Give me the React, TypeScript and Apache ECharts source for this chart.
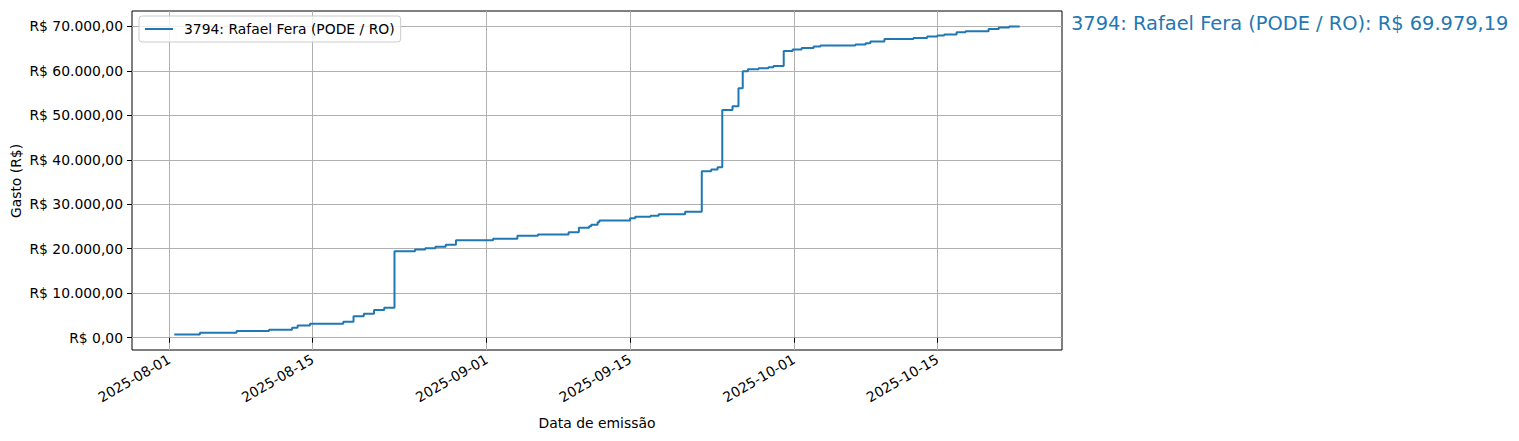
import React, { useEffect, useRef } from "react";
import * as echarts from "echarts";

const seriesName = "3794: Rafael Fera (PODE / RO)";
const totalLabel = "3794: Rafael Fera (PODE / RO): R$ 69.979,19";

const dates: string[] = [
  "2025-08-01 12:00", "2025-08-04 00:00", "2025-08-07 14:00", "2025-08-10 18:00",
  "2025-08-13 00:00", "2025-08-13 13:00", "2025-08-14 18:00", "2025-08-18 00:00",
  "2025-08-19 00:00", "2025-08-20 00:00", "2025-08-21 00:00", "2025-08-22 00:00",
  "2025-08-23 00:00", "2025-08-25 00:00", "2025-08-26 00:00", "2025-08-27 00:00",
  "2025-08-28 00:00", "2025-08-29 00:00", "2025-09-01 15:00", "2025-09-04 00:00",
  "2025-09-06 00:00", "2025-09-09 00:00", "2025-09-10 00:00", "2025-09-11 00:00",
  "2025-09-11 05:00", "2025-09-11 20:00", "2025-09-12 00:00", "2025-09-15 00:00",
  "2025-09-15 12:00", "2025-09-17 00:00", "2025-09-17 19:00", "2025-09-20 09:00",
  "2025-09-22 00:00", "2025-09-22 22:00", "2025-09-23 13:00", "2025-09-24 00:00",
  "2025-09-25 00:00", "2025-09-25 14:00", "2025-09-26 00:00", "2025-09-26 12:00",
  "2025-09-27 13:00", "2025-09-28 12:00", "2025-09-29 00:00", "2025-09-30 00:00",
  "2025-09-30 21:00", "2025-10-01 18:00", "2025-10-02 22:00", "2025-10-03 14:00",
  "2025-10-07 00:00", "2025-10-08 00:00", "2025-10-08 11:00", "2025-10-09 20:00",
  "2025-10-12 16:00", "2025-10-14 00:00", "2025-10-15 00:00", "2025-10-15 16:00",
  "2025-10-16 21:00", "2025-10-17 18:00", "2025-10-20 00:00", "2025-10-21 00:00",
  "2025-10-22 00:00", "2025-10-23 01:00",
];

const cumulative: number[] = [
  700, 1100, 1480, 1780,
  2220, 2760, 3120, 3570,
  4850, 5370, 6200, 6720,
  19460, 19840, 20130, 20430,
  20880, 21930, 22220, 22900,
  23210, 23730, 24700, 25080,
  25370, 25980, 26360, 26870,
  27170, 27390, 27770, 28300,
  37440, 37820, 38330, 51210,
  52040, 56090, 59900, 60350,
  60580, 60800, 61100, 64470,
  64780, 65140, 65450, 65680,
  65900, 66190, 66570, 67160,
  67390, 67700, 67930, 68150,
  68670, 68890, 69410, 69720,
  69979.19, 69979.19,
];

const xTickDates: string[] = [
  "2025-08-01", "2025-08-15", "2025-09-01", "2025-09-15", "2025-10-01", "2025-10-15",
];
const yTickValues: number[] = [0, 10000, 20000, 30000, 40000, 50000, 60000, 70000];

function parseUTC(s: string): number {
  const [d, t] = s.split(" ");
  const [y, m, dd] = d.split("-").map(Number);
  const [hh, mm] = (t || "00:00").split(":").map(Number);
  return Date.UTC(y, m - 1, dd, hh, mm);
}

function fmtDate(ts: number): string {
  const d = new Date(ts);
  const p = (n: number) => String(n).padStart(2, "0");
  return `${d.getUTCFullYear()}-${p(d.getUTCMonth() + 1)}-${p(d.getUTCDate())}`;
}

function fmtBRL(v: number): string {
  const fixed = Math.abs(v).toFixed(2);
  const [int, dec] = fixed.split(".");
  const withDots = int.replace(/\B(?=(\d{3})+(?!\d))/g, ".");
  return `R$ ${v < 0 ? "-" : ""}${withDots},${dec}`;
}

const FONT = "DejaVu Sans";

export default function App() {
  const ref = useRef<HTMLDivElement>(null);

  useEffect(() => {
    document.body.style.margin = "0";
    if (!ref.current) return;
    const chart = echarts.init(ref.current, undefined, { renderer: "svg" });

    const xs = dates.map(parseUTC);
    const points = xs.map((x, i) => [x, cumulative[i]]);
    const xMinD = Math.min(...xs);
    const xMaxD = Math.max(...xs);
    const xSpan = xMaxD - xMinD;
    const yMinD = Math.min(...cumulative);
    const yMaxD = Math.max(...cumulative);
    const ySpan = yMaxD - yMinD;

    chart.setOption({
      animation: false,
      grid: {
        left: 132,
        top: 11,
        right: 457,
        bottom: 91,
        show: true,
        borderColor: "#000",
        borderWidth: 1,
        backgroundColor: "transparent",
      },
      legend: {
        left: 139,
        top: 16,
        padding: [6, 6, 6, 6],
        borderColor: "#cccccc",
        borderWidth: 1,
        borderRadius: 3,
        backgroundColor: "rgba(255,255,255,0.8)",
        icon: "rect",
        itemWidth: 28,
        itemHeight: 2,
        textStyle: {
          fontFamily: FONT,
          fontSize: 13.9,
          color: "#000",
          padding: [0, 0, 0, 6],
        },
        data: [seriesName],
      },
      xAxis: {
        type: "value",
        min: xMinD - 0.05 * xSpan,
        max: xMaxD + 0.05 * xSpan,
        axisLine: { show: false },
        axisTick: {
          show: true,
          length: 5,
          lineStyle: { color: "#000", width: 1 },
          customValues: xTickDates.map(parseUTC),
        },
        axisLabel: {
          customValues: xTickDates.map(parseUTC),
          formatter: (v: number) => fmtDate(v),
          rotate: 30,
          margin: 8,
          fontFamily: FONT,
          fontSize: 13.9,
          color: "#000",
        },
        splitLine: { show: true, lineStyle: { color: "#b0b0b0", width: 1 } },
      },
      yAxis: {
        type: "value",
        min: yMinD - 0.05 * ySpan,
        max: yMaxD + 0.05 * ySpan,
        axisLine: { show: false },
        axisTick: {
          show: true,
          length: 5,
          lineStyle: { color: "#000", width: 1 },
          customValues: yTickValues,
        },
        axisLabel: {
          customValues: yTickValues,
          formatter: (v: number) => fmtBRL(v),
          margin: 9,
          fontFamily: FONT,
          fontSize: 13.9,
          color: "#000",
        },
        splitLine: { show: true, lineStyle: { color: "#b0b0b0", width: 1 } },
      },
      series: [
        {
          name: seriesName,
          type: "line",
          step: "end",
          data: points,
          showSymbol: false,
          symbol: "none",
          lineStyle: { color: "#1f77b4", width: 2 },
          itemStyle: { color: "#1f77b4" },
        },
      ],
      graphic: [
        {
          type: "text",
          left: 1071,
          top: 14,
          style: {
            text: totalLabel,
            fontFamily: FONT,
            fontSize: 19.4,
            fill: "#1f77b4",
          },
        },
        {
          type: "text",
          x: 597,
          y: 423,
          style: {
            text: "Data de emissão",
            fontFamily: FONT,
            fontSize: 13.9,
            fill: "#000",
            align: "center",
            verticalAlign: "middle",
          },
        },
        {
          type: "text",
          x: 16,
          y: 181,
          rotation: Math.PI / 2,
          style: {
            text: "Gasto (R$)",
            fontFamily: FONT,
            fontSize: 13.9,
            fill: "#000",
            align: "center",
            verticalAlign: "middle",
          },
        },
      ],
    });

    return () => chart.dispose();
  }, []);

  return <div ref={ref} style={{ width: 1519, height: 441 }} />;
}
